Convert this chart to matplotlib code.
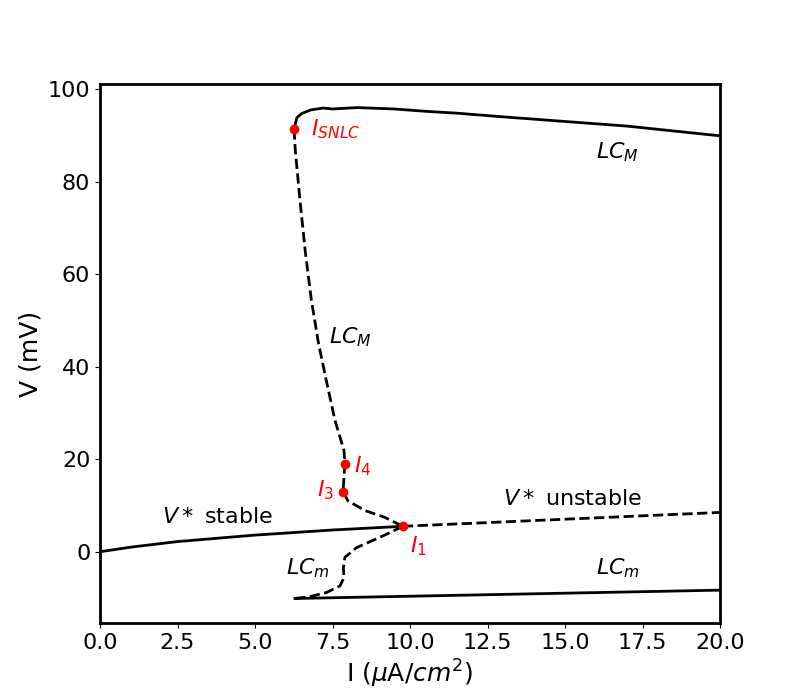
import matplotlib.pyplot as plt

# upper branch of large limit cycle (stable)
lcM_up_I = [6.26, 6.35, 6.5, 6.8, 7.2, 7.5, 8.3, 9.5, 10.5, 11.5, 13.0, 15.0, 17.0, 20.0]
lcM_up_V = [91.3, 93.8, 94.7, 95.5, 95.9, 95.7, 96.0, 95.7, 95.2, 94.8, 94.0, 93.0, 92.0, 89.9]

# unstable branch of large limit cycle
lcM_un_I = [6.26, 6.3, 6.45, 6.62, 6.82, 7.05, 7.3, 7.58, 7.87, 7.9, 7.84, 8.0, 8.55, 9.2, 9.77]
lcM_un_V = [91.3, 86.8, 76.0, 65.0, 54.3, 45.0, 37.0, 28.4, 21.9, 19.0, 13.0, 11.0, 8.9, 7.4, 5.5]

# unstable branch of small limit cycle
lcm_un_I = [9.77, 9.14, 8.28, 7.9, 7.85, 7.87, 7.74, 7.31, 6.77, 6.29]
lcm_un_V = [5.5, 3.46, 0.9, -1.2, -3.4, -5.6, -7.4, -8.8, -9.7, -10.1]

# stable small limit cycle
lcm_st_I = [6.29, 20.0]
lcm_st_V = [-10.1, -8.3]

# equilibrium
vs_st_I = [0.0, 1.0, 2.5, 5.0, 7.5, 9.77]
vs_st_V = [0.0, 1.0, 2.2, 3.6, 4.7, 5.5]
vs_un_I = [9.77, 20.0]
vs_un_V = [5.5, 8.5]

# special points
pts_I = [6.26, 7.9, 7.84, 9.77]
pts_V = [91.3, 19.0, 13.0, 5.5]

fig, ax = plt.subplots(figsize=(8, 7), dpi=100)

ax.plot(lcM_up_I, lcM_up_V, color='black', lw=2)
ax.plot(lcM_un_I, lcM_un_V, color='black', lw=2, ls='--')
ax.plot(lcm_un_I, lcm_un_V, color='black', lw=2, ls='--')
ax.plot(lcm_st_I, lcm_st_V, color='black', lw=2)
ax.plot(vs_st_I, vs_st_V, color='black', lw=2)
ax.plot(vs_un_I, vs_un_V, color='black', lw=2, ls='--')
ax.plot(pts_I, pts_V, 'o', color='red', markersize=6, zorder=5)

fs = 16
ax.text(6.8, 91.3, r'$I_{SNLC}$', color='red', fontsize=fs, va='center')
ax.text(8.2, 18.4, r'$I_4$', color='red', fontsize=fs, va='center')
ax.text(7.55, 13.3, r'$I_3$', color='red', fontsize=fs, va='center', ha='right')
ax.text(10.0, 1.3, r'$I_1$', color='red', fontsize=fs, va='center')
ax.text(16.0, 86.4, r'$LC_M$', fontsize=fs, va='center')
ax.text(7.4, 46.3, r'$LC_M$', fontsize=fs, va='center')
ax.text(2.0, 7.6, r'$V*$ stable', fontsize=fs, va='center')
ax.text(13.0, 11.3, r'$V*$ unstable', fontsize=fs, va='center')
ax.text(6.0, -3.5, r'$LC_m$', fontsize=fs, va='center')
ax.text(16.0, -3.5, r'$LC_m$', fontsize=fs, va='center')

ax.set_xlim(0, 20)
ax.set_ylim(-15.4, 101.1)
ax.set_xticks([0, 2.5, 5, 7.5, 10, 12.5, 15, 17.5, 20])
ax.set_xlabel(r'I ($\mu$A/$cm^2$)', fontsize=18)
ax.set_ylabel('V (mV)', fontsize=18)
ax.tick_params(labelsize=16)
for s in ax.spines.values():
    s.set_linewidth(2)

plt.savefig('out.png', dpi=100)
plt.close()
